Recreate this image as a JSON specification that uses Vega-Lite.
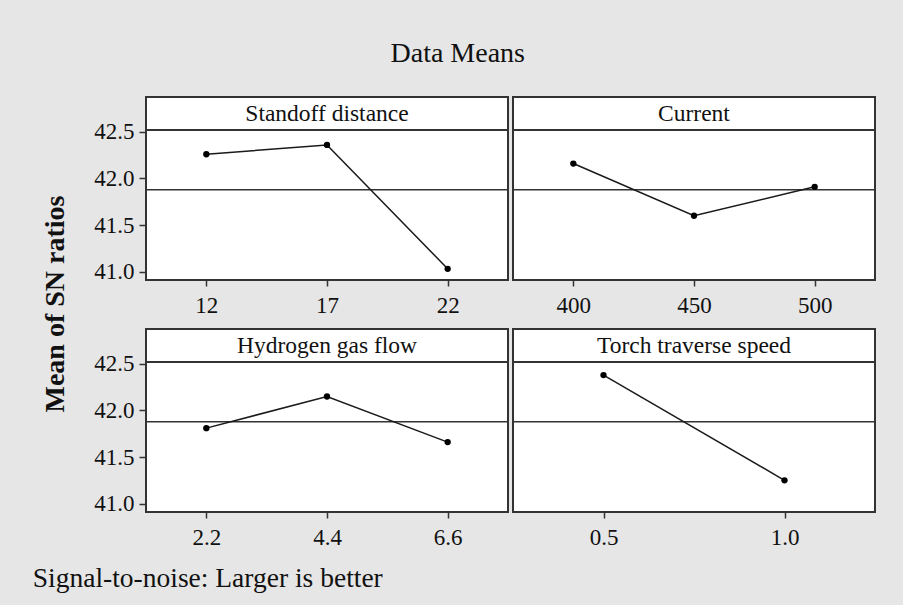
{
  "$schema": "https://vega.github.io/schema/vega-lite/v6.json",
  "background": "#e6e6e6",
  "padding": {"left": 32, "right": 27, "top": 40, "bottom": 12},
  "title": {
    "text": "Data Means",
    "font": "Liberation Serif",
    "fontSize": 28,
    "fontWeight": "normal",
    "color": "#111111",
    "anchor": "middle",
    "offset": 28,
    "dx": 3
  },
  "datasets": {
    "factors": [
      {"factor": "Standoff distance"},
      {"factor": "Current"},
      {"factor": "Hydrogen gas flow"},
      {"factor": "Torch traverse speed"}
    ],
    "means": [
      {"factor": "Standoff distance", "level": "12", "sn": 42.26},
      {"factor": "Standoff distance", "level": "17", "sn": 42.36},
      {"factor": "Standoff distance", "level": "22", "sn": 41.03},
      {"factor": "Current", "level": "400", "sn": 42.16},
      {"factor": "Current", "level": "450", "sn": 41.6},
      {"factor": "Current", "level": "500", "sn": 41.91},
      {"factor": "Hydrogen gas flow", "level": "2.2", "sn": 41.81},
      {"factor": "Hydrogen gas flow", "level": "4.4", "sn": 42.15},
      {"factor": "Hydrogen gas flow", "level": "6.6", "sn": 41.66},
      {"factor": "Torch traverse speed", "level": "0.5", "sn": 42.38},
      {"factor": "Torch traverse speed", "level": "1.0", "sn": 41.25}
    ],
    "grand": [
      {"label": "Overall mean", "sn": 41.88}
    ]
  },
  "config": {
    "font": "Liberation Serif",
    "view": {"stroke": "#333333", "strokeWidth": 2, "fill": "white"},
    "axis": {
      "labelFont": "Liberation Serif",
      "labelFontSize": 23,
      "labelColor": "#111111",
      "domain": false,
      "grid": false,
      "ticks": true,
      "tickColor": "#333333",
      "tickWidth": 1.5,
      "title": null
    },
    "title": {"font": "Liberation Serif", "color": "#111111"}
  },
  "vconcat": [
    {
      "title": {
        "text": "Signal-to-noise: Larger is better",
        "orient": "bottom",
        "anchor": "start",
        "fontSize": 27.5,
        "fontWeight": "normal",
        "dx": -9,
        "offset": 15
      },
      "vconcat": [
        {
          "title": {
            "text": "Mean of SN ratios",
            "orient": "left",
            "anchor": "middle",
            "fontSize": 28,
            "fontWeight": "bold",
            "offset": 23,
            "dx": 19
          },
          "spacing": 10,
          "vconcat": [
            {
              "spacing": 1,
              "hconcat": [
                {
                  "bounds": "flush",
                  "spacing": 0,
                  "vconcat": [
                    {
                      "width": 362, "height": 33,
                      "data": {"name": "factors"},
                      "transform": [{"filter": "datum.factor === 'Standoff distance'"}],
                      "mark": {"type": "text", "fontSize": 23.5, "color": "#111111", "baseline": "middle"},
                      "encoding": {
                        "x": {"field": "factor", "type": "nominal", "axis": null},
                        "text": {"field": "factor"}
                      }
                    },
                    {
                      "width": 362, "height": 150,
                      "layer": [
                        {
                          "data": {"name": "grand"},
                          "mark": {"type": "rule", "color": "#333333", "strokeWidth": 1.5},
                          "encoding": {"y": {"field": "sn", "type": "quantitative", "scale": {"domain": [40.91, 42.52], "zero": false, "nice": false}}}
                        },
                        {
                          "data": {"name": "means"},
                          "transform": [{"filter": "datum.factor === 'Standoff distance'"}],
                          "mark": {"type": "line", "color": "#1a1a1a", "strokeWidth": 1.5, "point": {"filled": true, "color": "#000000", "size": 40}},
                          "encoding": {
                            "x": {"field": "level", "type": "ordinal", "sort": null, "scale": {"type": "point", "padding": 0.5}, "axis": {"labelAngle": 0, "tickSize": 6, "labelPadding": 8}},
                            "y": {"field": "sn", "type": "quantitative", "scale": {"domain": [40.91, 42.52], "zero": false, "nice": false}, "axis": {"values": [41.0, 41.5, 42.0, 42.5], "format": ".1f", "tickSize": 7, "labelPadding": 5}}
                          }
                        }
                      ]
                    }
                  ]
                },
                {
                  "bounds": "flush",
                  "spacing": 0,
                  "vconcat": [
                    {
                      "width": 362, "height": 33,
                      "data": {"name": "factors"},
                      "transform": [{"filter": "datum.factor === 'Current'"}],
                      "mark": {"type": "text", "fontSize": 23.5, "color": "#111111", "baseline": "middle"},
                      "encoding": {
                        "x": {"field": "factor", "type": "nominal", "axis": null},
                        "text": {"field": "factor"}
                      }
                    },
                    {
                      "width": 362, "height": 150,
                      "layer": [
                        {
                          "data": {"name": "grand"},
                          "mark": {"type": "rule", "color": "#333333", "strokeWidth": 1.5},
                          "encoding": {"y": {"field": "sn", "type": "quantitative", "scale": {"domain": [40.91, 42.52], "zero": false, "nice": false}, "axis": null}}
                        },
                        {
                          "data": {"name": "means"},
                          "transform": [{"filter": "datum.factor === 'Current'"}],
                          "mark": {"type": "line", "color": "#1a1a1a", "strokeWidth": 1.5, "point": {"filled": true, "color": "#000000", "size": 40}},
                          "encoding": {
                            "x": {"field": "level", "type": "ordinal", "sort": null, "scale": {"type": "point", "padding": 0.5}, "axis": {"labelAngle": 0, "tickSize": 6, "labelPadding": 8}},
                            "y": {"field": "sn", "type": "quantitative", "scale": {"domain": [40.91, 42.52], "zero": false, "nice": false}, "axis": null}
                          }
                        }
                      ]
                    }
                  ]
                }
              ]
            },
            {
              "spacing": 1,
              "hconcat": [
                {
                  "bounds": "flush",
                  "spacing": 0,
                  "vconcat": [
                    {
                      "width": 362, "height": 33,
                      "data": {"name": "factors"},
                      "transform": [{"filter": "datum.factor === 'Hydrogen gas flow'"}],
                      "mark": {"type": "text", "fontSize": 23.5, "color": "#111111", "baseline": "middle"},
                      "encoding": {
                        "x": {"field": "factor", "type": "nominal", "axis": null},
                        "text": {"field": "factor"}
                      }
                    },
                    {
                      "width": 362, "height": 150,
                      "layer": [
                        {
                          "data": {"name": "grand"},
                          "mark": {"type": "rule", "color": "#333333", "strokeWidth": 1.5},
                          "encoding": {"y": {"field": "sn", "type": "quantitative", "scale": {"domain": [40.91, 42.52], "zero": false, "nice": false}}}
                        },
                        {
                          "data": {"name": "means"},
                          "transform": [{"filter": "datum.factor === 'Hydrogen gas flow'"}],
                          "mark": {"type": "line", "color": "#1a1a1a", "strokeWidth": 1.5, "point": {"filled": true, "color": "#000000", "size": 40}},
                          "encoding": {
                            "x": {"field": "level", "type": "ordinal", "sort": null, "scale": {"type": "point", "padding": 0.5}, "axis": {"labelAngle": 0, "tickSize": 6, "labelPadding": 8}},
                            "y": {"field": "sn", "type": "quantitative", "scale": {"domain": [40.91, 42.52], "zero": false, "nice": false}, "axis": {"values": [41.0, 41.5, 42.0, 42.5], "format": ".1f", "tickSize": 7, "labelPadding": 5}}
                          }
                        }
                      ]
                    }
                  ]
                },
                {
                  "bounds": "flush",
                  "spacing": 0,
                  "vconcat": [
                    {
                      "width": 362, "height": 33,
                      "data": {"name": "factors"},
                      "transform": [{"filter": "datum.factor === 'Torch traverse speed'"}],
                      "mark": {"type": "text", "fontSize": 23.5, "color": "#111111", "baseline": "middle"},
                      "encoding": {
                        "x": {"field": "factor", "type": "nominal", "axis": null},
                        "text": {"field": "factor"}
                      }
                    },
                    {
                      "width": 362, "height": 150,
                      "layer": [
                        {
                          "data": {"name": "grand"},
                          "mark": {"type": "rule", "color": "#333333", "strokeWidth": 1.5},
                          "encoding": {"y": {"field": "sn", "type": "quantitative", "scale": {"domain": [40.91, 42.52], "zero": false, "nice": false}, "axis": null}}
                        },
                        {
                          "data": {"name": "means"},
                          "transform": [{"filter": "datum.factor === 'Torch traverse speed'"}],
                          "mark": {"type": "line", "color": "#1a1a1a", "strokeWidth": 1.5, "point": {"filled": true, "color": "#000000", "size": 40}},
                          "encoding": {
                            "x": {"field": "level", "type": "ordinal", "sort": null, "scale": {"type": "point", "padding": 0.5}, "axis": {"labelAngle": 0, "tickSize": 6, "labelPadding": 8}},
                            "y": {"field": "sn", "type": "quantitative", "scale": {"domain": [40.91, 42.52], "zero": false, "nice": false}, "axis": null}
                          }
                        }
                      ]
                    }
                  ]
                }
              ]
            }
          ]
        }
      ]
    }
  ]
}
